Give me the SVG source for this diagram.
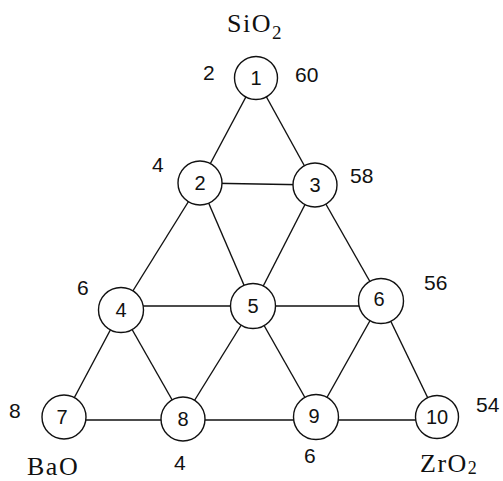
<svg xmlns="http://www.w3.org/2000/svg" width="503" height="481" viewBox="0 0 503 481">
<style>
.e{stroke:#111;stroke-width:1.4;fill:none}
.n circle{fill:#fff;stroke:#111;stroke-width:1.4}
.n text{font-family:"Liberation Sans",Arial,sans-serif;font-size:20px;fill:#111;text-anchor:middle;dominant-baseline:central}
.lb{font-family:"Liberation Sans",Arial,sans-serif;font-size:21px;fill:#111}
.ox{font-family:"Liberation Serif","Times New Roman",serif;font-size:26px;fill:#111;letter-spacing:1.5px}
</style>
<rect width="503" height="481" fill="#fff"/>
<g id="connectors">
<line class="e" x1="256" y1="78" x2="200" y2="183"/>
<line class="e" x1="256" y1="78" x2="315" y2="185"/>
<line class="e" x1="200" y1="183" x2="315" y2="185"/>
<line class="e" x1="200" y1="183" x2="121" y2="310"/>
<line class="e" x1="200" y1="183" x2="253" y2="306"/>
<line class="e" x1="315" y1="185" x2="253" y2="306"/>
<line class="e" x1="315" y1="185" x2="381" y2="301"/>
<line class="e" x1="121" y1="306" x2="253" y2="306"/>
<line class="e" x1="253" y1="306" x2="381" y2="306"/>
<line class="e" x1="121" y1="310" x2="64" y2="417"/>
<line class="e" x1="121" y1="310" x2="183" y2="419"/>
<line class="e" x1="253" y1="306" x2="183" y2="419"/>
<line class="e" x1="253" y1="306" x2="316" y2="417"/>
<line class="e" x1="381" y1="301" x2="316" y2="417"/>
<line class="e" x1="381" y1="301" x2="437" y2="417"/>
<line class="e" x1="64" y1="420" x2="183" y2="420"/>
<line class="e" x1="183" y1="420" x2="316" y2="420"/>
<line class="e" x1="316" y1="420" x2="437" y2="420"/>
</g>
<g id="node1" class="n"><circle cx="256" cy="78" r="21.5"/><text x="256" y="78">1</text></g>
<g id="node2" class="n"><circle cx="200" cy="183" r="22"/><text x="200" y="183">2</text></g>
<g id="node3" class="n"><circle cx="315" cy="185" r="22"/><text x="315" y="185">3</text></g>
<g id="node4" class="n"><circle cx="121" cy="310" r="22.5"/><text x="121" y="310">4</text></g>
<g id="node5" class="n"><circle cx="253" cy="306" r="22.5"/><text x="253" y="306">5</text></g>
<g id="node6" class="n"><circle cx="381" cy="301" r="22.5"/><text x="379" y="299">6</text></g>
<g id="node7" class="n"><circle cx="64" cy="417" r="22"/><text x="62" y="417">7</text></g>
<g id="node8" class="n"><circle cx="183" cy="419" r="22"/><text x="183" y="419">8</text></g>
<g id="node9" class="n"><circle cx="316" cy="417" r="22.5"/><text x="314" y="416">9</text></g>
<g id="node10" class="n"><circle cx="437" cy="417" r="21.5"/><text x="437" y="417">10</text></g>
<g id="labels">
<text class="ox" x="227" y="32">SiO<tspan font-size="19" dy="7">2</tspan></text>
<text class="ox" x="27" y="475">BaO</text>
<text class="ox" x="420" y="472">ZrO<tspan font-size="18" dy="2">2</tspan></text>
<text class="lb" x="203" y="80">2</text>
<text class="lb" x="295" y="82">60</text>
<text class="lb" x="152" y="172">4</text>
<text class="lb" x="350" y="183">58</text>
<text class="lb" x="77" y="295">6</text>
<text class="lb" x="424" y="290">56</text>
<text class="lb" x="9" y="418">8</text>
<text class="lb" x="476" y="412">54</text>
<text class="lb" x="174" y="470">4</text>
<text class="lb" x="304" y="463">6</text>
</g>
</svg>
